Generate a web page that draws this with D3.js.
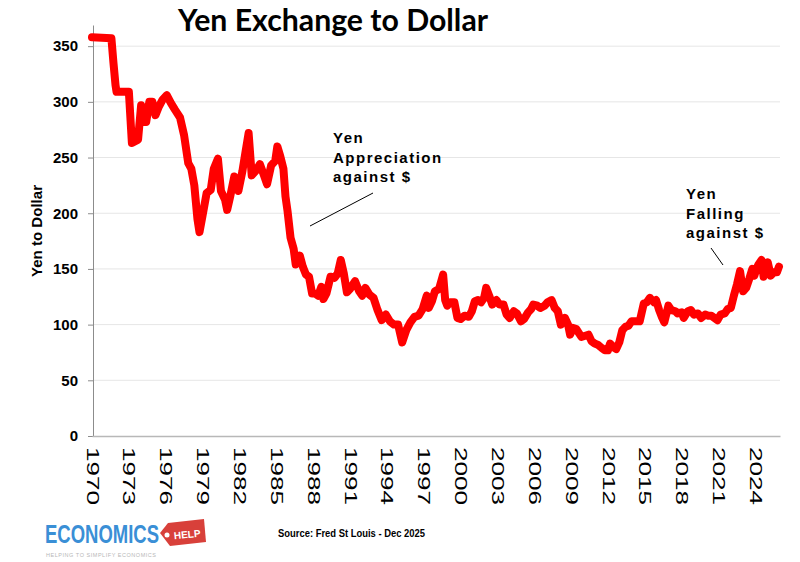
<!DOCTYPE html>
<html>
<head>
<meta charset="utf-8">
<script src="https://cdn.jsdelivr.net/npm/d3@7"></script>
<style>
  body { margin: 0; background: #fff; }
  svg { display: block; }
</style>
</head>
<body>
<script>
// yen per dollar (FRED monthly, Dec 2025)
var months = [
  "1970-01","1971-08","1971-10","1971-12","1972-01","1973-01","1973-04","1973-10",
  "1974-01","1974-03","1974-06","1974-09","1974-12","1975-03","1975-06","1975-10",
  "1976-02","1976-06","1976-10","1977-03","1977-07","1977-11","1978-02","1978-05",
  "1978-08","1978-10","1979-01","1979-05","1979-09","1979-12","1980-04","1980-07",
  "1980-11","1981-01","1981-04","1981-08","1981-12","1982-04","1982-07","1982-10",
  "1983-01","1983-05","1983-09","1984-01","1984-04","1984-08","1984-12","1985-02",
  "1985-05","1985-08","1985-10","1985-12","1986-03","1986-06","1986-08","1986-12",
  "1987-03","1987-06","1987-09","1987-12","1988-03","1988-06","1988-09","1988-11",
  "1989-02","1989-06","1989-10","1990-01","1990-04","1990-07","1990-10","1991-01",
  "1991-06","1991-10","1992-01","1992-04","1992-08","1992-12","1993-04","1993-08",
  "1993-12","1994-04","1994-08","1994-12","1995-04","1995-08","1995-12","1996-04",
  "1996-08","1996-12","1997-04","1997-06","1997-09","1997-12","1998-04","1998-08",
  "1998-10","1998-12","1999-03","1999-07","1999-10","2000-01","2000-05","2000-09",
  "2000-12","2001-03","2001-06","2001-09","2001-12","2002-02","2002-05","2002-08",
  "2002-12","2003-03","2003-07","2003-10","2004-01","2004-05","2004-08","2004-12",
  "2005-03","2005-07","2005-10","2005-12","2006-04","2006-07","2006-11","2007-02",
  "2007-06","2007-09","2007-12","2008-03","2008-07","2008-10","2008-12","2009-03",
  "2009-06","2009-11","2010-03","2010-06","2010-09","2010-12","2011-03","2011-07",
  "2011-10","2012-01","2012-03","2012-06","2012-09","2012-12","2013-03","2013-06",
  "2013-09","2013-12","2014-04","2014-08","2014-12","2015-03","2015-06","2015-10",
  "2015-12","2016-03","2016-06","2016-08","2016-12","2017-03","2017-07","2017-09",
  "2018-01","2018-03","2018-07","2018-10","2019-01","2019-05","2019-08","2019-12",
  "2020-03","2020-06","2020-09","2020-12","2021-03","2021-07","2021-10","2022-01",
  "2022-04","2022-07","2022-10","2022-12","2023-01","2023-04","2023-07","2023-10",
  "2023-12","2024-02","2024-04","2024-07","2024-09","2024-12","2025-01","2025-04",
  "2025-07","2025-10","2025-12"
];
var yenPerDollar = [
  358,357,335,315,309,309,263,266,
  297,282,282,300,300,288,295,302,
  306,299,293,286,270,245,240,225,
  195,183,198,218,221,240,249,220,
  212,203,215,233,220,238,255,272,
  234,238,244,234,226,243,247,260,
  251,240,215,202,178,168,154,162,
  152,145,143,128,128,126,134,123,
  128,143,142,146,158,146,129,132,
  139,130,126,133,127,124,113,104,
  109,103,100,100,84,95,102,107,
  108,114,126,115,121,130,132,145,
  122,117,120,120,106,105,108,107,
  112,121,122,120,124,133,126,118,
  122,118,118,109,106,112,110,103,
  105,111,114,118,117,115,117,120,
  122,115,112,100,106,100,91,97,
  96,89,90,91,85,83,82,79,
  77,77,83,80,78,84,95,98,
  99,103,103,103,119,120,124,120,
  122,113,106,102,117,113,112,110,
  111,106,112,113,109,110,106,109,
  108,108,106,104,109,110,114,115,
  126,136,148,135,130,133,141,150,
  144,150,154,158,143,153,156,144,
  147,147,152
];
var yearTicks = [1970,1973,1976,1979,1982,1985,1988,1991,1994,1997,2000,2003,2006,2009,2012,2015,2018,2021,2024];
var valueTicks = [0,50,100,150,200,250,300,350];

var parseMonth = d3.timeParse("%Y-%m");
var data = months.map(function(m, i) { return {date: parseMonth(m), value: yenPerDollar[i]}; });

var chart = {
  width: 800,
  height: 562,
  left: 93,
  right: 780,
  top: 25,
  bottom: 436
}

var svg = d3.select("body").append("svg")
  .attr("width", chart.width)
  .attr("height", chart.height);

var x = d3.scaleTime()
  .domain([new Date(1970, 0, 1), new Date(2026, 0, 1)])
  .range([chart.left - 1, chart.right]);

var y = d3.scaleLinear()
  .domain([0, 369])
  .range([chart.bottom, chart.top]);

// gridlines
svg.append("g").selectAll("line").data(valueTicks.slice(1))
  .enter().append("line")
  .attr("x1", chart.left)
  .attr("x2", chart.right)
  .attr("y1", function(d) { return y(d); })
  .attr("y2", function(d) { return y(d); })
  .attr("stroke", "#e6e6e6")
  .attr("stroke-width", 1);

// y axis
var yAxis = svg.append("g")
  .attr("transform", "translate(" + chart.left + ",0)")
  .call(d3.axisLeft(y).tickValues(valueTicks).tickSize(5).tickPadding(10).tickSizeOuter(0));
yAxis.select(".domain").attr("stroke", "#8c8c8c");
yAxis.selectAll(".tick line").attr("stroke", "#8c8c8c");
yAxis.selectAll(".tick text")
  .attr("font-family", "'Liberation Sans', Arial, sans-serif")
  .attr("font-size", 15)
  .attr("font-weight", "bold")
  .attr("fill", "#000");

// x axis
var xAxis = svg.append("g")
  .attr("transform", "translate(0," + chart.bottom + ")")
  .call(d3.axisBottom(x)
    .tickValues(yearTicks.map(function(yr) { return new Date(yr, 0, 1); }))
    .tickSize(0)
    .tickFormat(d3.timeFormat("%Y")));
xAxis.select(".domain").attr("stroke", "#b8b8b8").attr("stroke-width", 1.5);
xAxis.selectAll(".tick text")
  .attr("font-family", "'Liberation Sans', Arial, sans-serif")
  .attr("font-size", 17)
  .attr("fill", "#000")
  .attr("text-anchor", "start")
  .attr("dy", "0.35em")
  .attr("y", 0)
  .attr("transform", "translate(0,11) rotate(90)")
  .attr("textLength", 58)
  .attr("lengthAdjust", "spacingAndGlyphs");

// the exchange rate line
var line = d3.line()
  .x(function(d) { return x(d.date); })
  .y(function(d) { return y(d.value); });

svg.append("path")
  .datum(data)
  .attr("d", line)
  .attr("fill", "none")
  .attr("stroke", "#ff0000")
  .attr("stroke-width", 8)
  .attr("stroke-linejoin", "round")
  .attr("stroke-linecap", "round");

// title
svg.append("text")
  .attr("x", 333)
  .attr("y", 31)
  .attr("text-anchor", "middle")
  .attr("font-family", "Lato, 'Open Sans', sans-serif")
  .attr("font-size", 30)
  .attr("font-weight", "bold")
  .attr("textLength", 310)
  .attr("lengthAdjust", "spacingAndGlyphs")
  .text("Yen Exchange to Dollar");

// y axis title
svg.append("text")
  .attr("transform", "translate(42,231) rotate(-90)")
  .attr("text-anchor", "middle")
  .attr("font-family", "'Liberation Sans', Arial, sans-serif")
  .attr("font-size", 15)
  .attr("font-weight", "bold")
  .attr("textLength", 92)
  .attr("lengthAdjust", "spacingAndGlyphs")
  .text("Yen to Dollar");

// annotations
var notes = [
  {x: 333, y: 143, lines: ["Yen", "Appreciation", "against $"], from: [310, 226], to: [373, 193]},
  {x: 686, y: 199, lines: ["Yen", "Falling", "against $"], from: [711, 248], to: [723, 265]}
];

notes.forEach(function(n) {
  var t = svg.append("text")
    .attr("font-family", "'Liberation Sans', Arial, sans-serif")
    .attr("font-size", 15)
    .attr("font-weight", "bold")
    .attr("letter-spacing", 1.5)
    .attr("fill", "#000");
  n.lines.forEach(function(s, i) {
    t.append("tspan").attr("x", n.x).attr("y", n.y + i * 19.5).text(s);
  });
  svg.append("line")
    .attr("x1", n.from[0]).attr("y1", n.from[1])
    .attr("x2", n.to[0]).attr("y2", n.to[1])
    .attr("stroke", "#000")
    .attr("stroke-width", 1);
});

// source
svg.append("text")
  .attr("x", 278)
  .attr("y", 537)
  .attr("font-family", "'Liberation Sans Narrow', 'Liberation Sans', sans-serif")
  .attr("font-size", 11)
  .attr("font-weight", "bold")
  .attr("textLength", 147)
  .attr("lengthAdjust", "spacingAndGlyphs")
  .text("Source: Fred St Louis - Dec 2025");

// economics help logo
var logo = svg.append("g");
logo.append("text")
  .attr("x", 45)
  .attr("y", 543)
  .attr("font-family", "'Liberation Sans Narrow', 'Liberation Sans', sans-serif")
  .attr("font-size", 26)
  .attr("font-weight", "bold")
  .attr("fill", "#3a8fd6")
  .attr("textLength", 114)
  .attr("lengthAdjust", "spacingAndGlyphs")
  .text("ECONOMICS");
logo.append("path")
  .attr("d", "M160,533 L168,523 L204,519 L206,542 L170,546 Z")
  .attr("fill", "#d8403a");
logo.append("circle")
  .attr("cx", 167).attr("cy", 535).attr("r", 2.5)
  .attr("fill", "#fff");
logo.append("text")
  .attr("x", 187)
  .attr("y", 538)
  .attr("text-anchor", "middle")
  .attr("transform", "rotate(-6,187,533)")
  .attr("font-family", "'Liberation Sans', sans-serif")
  .attr("font-size", 10)
  .attr("font-weight", "bold")
  .attr("fill", "#fff")
  .text("HELP");
logo.append("text")
  .attr("x", 46)
  .attr("y", 557)
  .attr("font-family", "'Liberation Sans', sans-serif")
  .attr("font-size", 5.5)
  .attr("fill", "#b8b8b8")
  .attr("textLength", 110)
  .text("HELPING TO SIMPLIFY ECONOMICS");
</script>
</body>
</html>
